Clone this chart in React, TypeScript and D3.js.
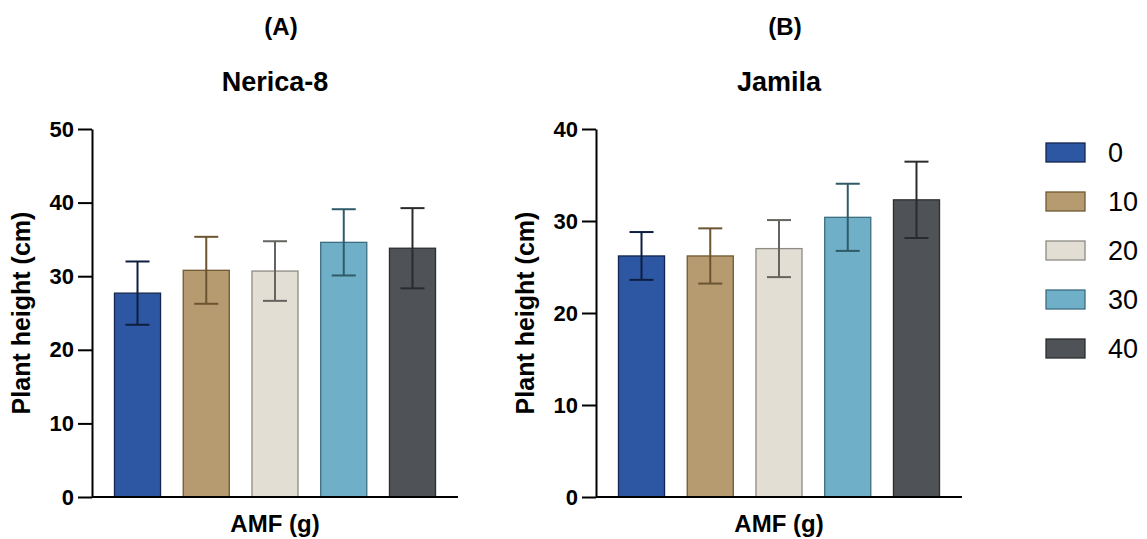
import React, { useEffect, useRef } from 'react';
import * as d3 from 'd3';

const width = 1147;
const height = 539;

// AMF doses (g)
const doses = ['0', '10', '20', '30', '40'];
const fills = ['#2E57A3', '#B59B6F', '#E2DED4', '#70AFC8', '#4F5256'];
const edges = ['#14264d', '#6f5a33', '#8e8b84', '#3d6d80', '#2c2e31'];
const errColors = ['#0e1e40', '#6a5431', '#66645f', '#2f5b69', '#2a2b2d'];

// Panel A: Nerica-8
const nericaMean = [27.7, 30.8, 30.7, 34.6, 33.8];
const nericaErr = [4.3, 4.55, 4.05, 4.5, 5.45];
const nericaTicks = [0, 10, 20, 30, 40, 50];

// Panel B: Jamila
const jamilaMean = [26.2, 26.2, 27.0, 30.4, 32.3];
const jamilaErr = [2.6, 3.0, 3.1, 3.65, 4.15];
const jamilaTicks = [0, 10, 20, 30, 40];

const font = 'Liberation Sans, Arial, sans-serif';
const yTop = 129;
const yBottom = 497;

function Panel({ left, letter, title, means, errs, ticks }) {
  const axisRef = useRef(null);
  const right = left + 366;
  const x = d3.scaleBand().domain(doses).range([left, right]).paddingInner(0.33).paddingOuter(0.327);
  const y = d3.scaleLinear().domain([0, d3.max(ticks)]).range([yBottom, yTop]);

  useEffect(() => {
    const g = d3.select(axisRef.current);
    g.call(d3.axisLeft(y).tickValues(ticks).tickSize(14).tickPadding(4).tickSizeOuter(0));
    g.select('.domain').attr('stroke', '#000').attr('stroke-width', 2);
    g.selectAll('.tick line').attr('stroke', '#000').attr('stroke-width', 2);
    g.selectAll('.tick text')
      .attr('font-family', font)
      .attr('font-weight', 'bold')
      .attr('font-size', 22)
      .attr('fill', '#000');
  });

  const cx = (left + right) / 2;
  const cap = x.bandwidth() / 2;

  return (
    <g>
      <text x={cx + 6} y={35} textAnchor="middle" fontFamily={font} fontWeight="bold" fontSize={24}>{letter}</text>
      <text x={cx} y={91} textAnchor="middle" fontFamily={font} fontWeight="bold" fontSize={27}>{title}</text>
      {doses.map((d, i) => {
        const bx = x(d);
        const mx = bx + x.bandwidth() / 2;
        return (
          <g key={d}>
            <rect x={bx} y={y(means[i])} width={x.bandwidth()} height={yBottom - y(means[i])}
              fill={fills[i]} stroke={edges[i]} strokeWidth={1.3} />
            <line x1={mx} x2={mx} y1={y(means[i] + errs[i])} y2={y(means[i] - errs[i])} stroke={errColors[i]} strokeWidth={2} />
            <line x1={mx - cap / 2 - 0.5} x2={mx + cap / 2 + 0.5} y1={y(means[i] + errs[i])} y2={y(means[i] + errs[i])} stroke={errColors[i]} strokeWidth={2} />
            <line x1={mx - cap / 2 - 0.5} x2={mx + cap / 2 + 0.5} y1={y(means[i] - errs[i])} y2={y(means[i] - errs[i])} stroke={errColors[i]} strokeWidth={2} />
          </g>
        );
      })}
      <line x1={left} x2={right} y1={yBottom} y2={yBottom} stroke="#000" strokeWidth={2} />
      <g ref={axisRef} transform={`translate(${left},0)`} />
      <text transform={`translate(${left - 62},${(yTop + yBottom) / 2}) rotate(-90)`} textAnchor="middle"
        fontFamily={font} fontWeight="bold" fontSize={25}>Plant height (cm)</text>
      <text x={cx} y={532} textAnchor="middle" fontFamily={font} fontWeight="bold" fontSize={24}>AMF (g)</text>
    </g>
  );
}

export default function App() {
  return (
    <svg width={width} height={height} style={{ position: 'absolute', left: 0, top: 0, background: '#fff' }}>
      <Panel left={92} letter="(A)" title="Nerica-8" means={nericaMean} errs={nericaErr} ticks={nericaTicks} />
      <Panel left={596} letter="(B)" title="Jamila" means={jamilaMean} errs={jamilaErr} ticks={jamilaTicks} />
      {doses.map((d, i) => (
        <g key={d} transform={`translate(1046,${143 + i * 49})`}>
          <rect width={39} height={19} fill={fills[i]} stroke={edges[i]} strokeWidth={1.3} />
          <text x={62} y={19} fontFamily={font} fontSize={27} fill="#000">{d}</text>
        </g>
      ))}
    </svg>
  );
}
